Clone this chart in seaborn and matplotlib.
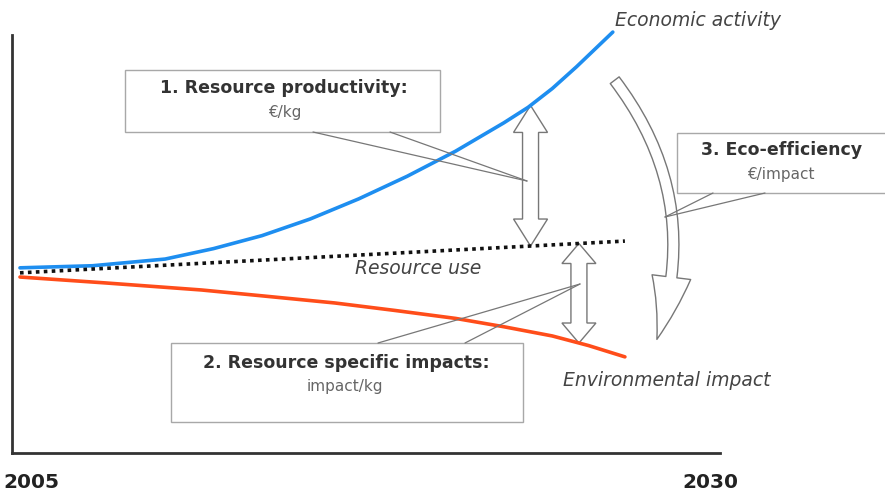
import numpy as np
import matplotlib
matplotlib.use("Agg")
import matplotlib.pyplot as plt
import seaborn as sns
from matplotlib.patches import Polygon, Rectangle, FancyArrowPatch
from matplotlib.lines import Line2D
from matplotlib.transforms import Affine2D, IdentityTransform

W, H = 885, 497

# Series (index, arbitrary units)
eco_years = [2005, 2008, 2011, 2013, 2015, 2017, 2019, 2021, 2023, 2025, 2026, 2027, 2028, 2029.5]
eco_values = [44.3, 44.8, 46.4, 48.9, 52.0, 56.0, 60.8, 66.2, 72.2, 79.0, 82.7, 87.2, 92.4, 100.7]
res_years = [2005, 2017.5, 2030]
res_values = [43.1, 46.9, 50.7]
env_years = [2005, 2008.5, 2012.5, 2015, 2018, 2020.5, 2023, 2025, 2027, 2028.5, 2030]
env_values = [42.1, 40.7, 39.0, 37.6, 35.9, 34.1, 32.2, 30.2, 28.0, 25.7, 23.0]

tick_labels = ["2005", "2030"]
arrow_years = [2026.1, 2028.1]

sns.set_style("white")
plt.rcParams["font.family"] = ["DejaVu Sans"]

fig = plt.figure(figsize=(W / 100, H / 100), dpi=100)
ax = fig.add_axes([12 / W, (H - 453) / H, (720 - 12) / W, (453 - 35) / H])
ax.set_xlim(2004.67, 2033.93)
ax.set_ylim(0, 100)

# pixel transform, origin top-left
px = Affine2D().scale(1, -1).translate(0, H)

blue = "#1e8ef0"
red = "#ff4d1a"

# hollow double arrows between the curves (drawn under the lines)
def double_arrow(x, y_top, y_bot, hl):
    xp, yt = ax.transData.transform((x, y_top))
    _, yb = ax.transData.transform((x, y_bot))
    w, hw = 8, 17
    pts = [(xp, yt), (xp + hw, yt - hl), (xp + w, yt - hl), (xp + w, yb + hl),
           (xp + hw, yb + hl), (xp, yb), (xp - hw, yb + hl), (xp - w, yb + hl),
           (xp - w, yt - hl), (xp - hw, yt - hl)]
    ax.add_patch(Polygon(pts, closed=True, facecolor="white", edgecolor="#777777",
                         lw=1, transform=IdentityTransform(), clip_on=False, zorder=1))

double_arrow(arrow_years[0], np.interp(arrow_years[0], eco_years, eco_values),
             np.interp(arrow_years[0], res_years, res_values), 27)
double_arrow(arrow_years[1], np.interp(arrow_years[1], res_years, res_values),
             np.interp(arrow_years[1], env_years, env_values), 20)

sns.lineplot(x=eco_years, y=eco_values, ax=ax, color=blue, lw=2.6, clip_on=False, zorder=3)
sns.lineplot(x=res_years, y=res_values, ax=ax, color="#111111", lw=2.6, linestyle=(0, (1, 1.2)),
             clip_on=False, zorder=3)
sns.lineplot(x=env_years, y=env_values, ax=ax, color=red, lw=2.6, clip_on=False, zorder=3)

sns.despine(ax=ax)
for s in ["left", "bottom"]:
    ax.spines[s].set_color("#333333")
    ax.spines[s].set_linewidth(2)
ax.set_xticks([])
ax.set_yticks([])

# curved eco-efficiency arrow
curved = FancyArrowPatch((613, 78), (656, 342), transform=px,
                         connectionstyle="arc3,rad=-0.27",
                         arrowstyle="simple,head_width=28,head_length=46,tail_width=8",
                         mutation_scale=1, facecolor="white", edgecolor="#777777", lw=1)
fig.add_artist(curved)

# boxes
def box(x0, y0, x1, y1):
    fig.add_artist(Rectangle((x0, y0), x1 - x0, y1 - y0, transform=px, facecolor="white",
                             edgecolor="#a8a8a8", lw=1, zorder=4))

box(125, 70, 440, 132)
box(171, 343, 523, 422)
box(677, 133, 905, 193)

def txt(x, y, s, **kw):
    fig.text(x, y, s, transform=px, va="center", zorder=5, **kw)

txt(284, 88, "1. Resource productivity:", ha="center", fontsize=12.5, fontweight="bold", color="#333333")
txt(285, 112, "€/kg", ha="center", fontsize=11, color="#666666")
txt(346, 363, "2. Resource specific impacts:", ha="center", fontsize=12.5, fontweight="bold", color="#333333")
txt(345, 387, "impact/kg", ha="center", fontsize=11, color="#666666")
txt(782, 150, "3. Eco-efficiency", ha="center", fontsize=12.5, fontweight="bold", color="#333333")
txt(781, 175, "€/impact", ha="center", fontsize=11, color="#666666")

txt(615, 20, "Economic activity", ha="left", fontsize=13.5, fontstyle="italic", color="#444444")
txt(355, 268, "Resource use", ha="left", fontsize=13.5, fontstyle="italic", color="#444444")
txt(563, 380, "Environmental impact", ha="left", fontsize=13.5, fontstyle="italic", color="#444444")

# callout leaders
def leader(x0, y0, x1, y1):
    fig.add_artist(Line2D([x0, x1], [y0, y1], transform=px, color="#777777", lw=0.9, zorder=4))

leader(313, 132, 527, 181)
leader(390, 132, 527, 181)
leader(378, 343, 580, 284)
leader(465, 343, 580, 284)
leader(713, 193, 665, 217)
leader(765, 193, 665, 217)

# axis end labels
txt(31, 483, tick_labels[0], ha="center", fontsize=14.5, fontweight="bold", color="#222222")
txt(710, 483, tick_labels[1], ha="center", fontsize=14.5, fontweight="bold", color="#222222")

fig.savefig("out.png", dpi=100)
